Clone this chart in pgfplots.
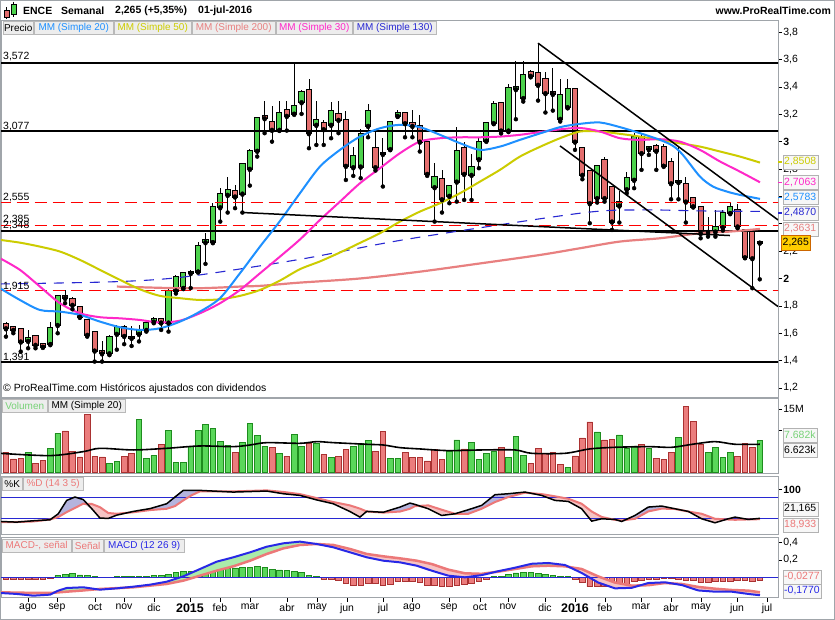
\documentclass[border=0pt]{standalone}
\usepackage{pgfplots}
\pgfplotsset{compat=1.18}
\usepackage{pgfplotstable}
\usepackage{fontspec}
\setmainfont{Liberation Sans}

\definecolor{ma20}{RGB}{30,144,255}
\definecolor{ma50}{RGB}{204,204,0}
\definecolor{ma200}{RGB}{232,128,128}
\definecolor{ma30}{RGB}{255,40,200}
\definecolor{ma130}{RGB}{40,40,210}
\definecolor{cgreen}{RGB}{76,210,76}
\definecolor{cred}{RGB}{228,110,110}
\definecolor{vgreen}{RGB}{90,215,90}
\definecolor{dgreen}{RGB}{30,140,30}
\definecolor{vred}{RGB}{235,125,125}
\definecolor{dred}{RGB}{170,50,50}
\definecolor{lav}{RGB}{180,180,222}
\definecolor{pinkf}{RGB}{246,196,196}
\definecolor{lgreen}{RGB}{170,235,170}
\definecolor{sig}{RGB}{236,120,120}
\definecolor{macdb}{RGB}{40,40,230}
\definecolor{gold}{RGB}{255,204,0}
\definecolor{frame}{RGB}{160,165,170}
\definecolor{volg}{RGB}{120,210,120}

\newcommand\tf{\fontsize{10.5}{12}\selectfont}
\newcommand\lf{\fontsize{10}{12}\selectfont}

% weekly candles: open high low close, up flag, volume (M), volume colour, MACD histogram
\pgfplotstableread{
w o h l c u vol vu mh
-25 1.668 1.685 1.575 1.636 0 4.76 0 -0.027
-24 1.644 1.650 1.600 1.624 0 3.17 0 -0.027
-23 1.629 1.630 1.466 1.539 0 3.33 0 -0.027
-22 1.544 1.620 1.490 1.563 1 4.76 1 -0.027
-21 1.580 1.580 1.490 1.515 0 2.14 0 -0.027
-20 1.520 1.530 1.500 1.500 0 2.86 0 -0.027
-19 1.520 1.685 1.520 1.636 1 5.71 1 -0.011
-18 1.660 1.875 1.600 1.873 1 9.29 1 0.019
-17 1.870 1.917 1.820 1.858 0 9.84 0 0.038
-16 1.848 1.868 1.775 1.807 0 4.92 0 0.046
-15 1.795 1.800 1.715 1.720 0 3.65 0 0.027
-14 1.697 1.700 1.575 1.588 0 13.8 0 0.019
-13 1.607 1.610 1.393 1.473 0 3.81 0 0.008
-12 1.473 1.540 1.393 1.453 0 3.65 0 0.003
-11 1.453 1.590 1.440 1.575 1 2.14 1 0.003
-10 1.595 1.660 1.480 1.644 1 2.62 1 0.008
-9 1.644 1.660 1.520 1.580 0 3.81 0 0.008
-8 1.570 1.653 1.507 1.566 0 4.52 0 0.008
-7 1.595 1.660 1.540 1.624 1 12.6 1 0.011
-6 1.624 1.685 1.612 1.678 1 3.33 1 0.015
-5 1.685 1.720 1.673 1.702 1 4.05 1 0.019
-4 1.702 1.705 1.624 1.678 0 6.67 0 0.019
-3 1.678 1.930 1.612 1.912 1 10.0 1 0.038
-2 1.912 2.026 1.890 2.009 1 2.38 1 0.057
-1 1.930 2.050 1.930 2.038 1 2.38 1 0.069
0 2.040 2.063 1.930 2.046 1 6.19 1 0.069
1 2.050 2.270 2.050 2.240 1 10.0 1 0.076
2 2.265 2.330 2.107 2.282 1 11.4 1 0.095
3 2.265 2.550 2.265 2.520 1 10.5 1 0.103
4 2.520 2.660 2.416 2.618 1 7.38 1 0.110
5 2.611 2.745 2.482 2.647 1 6.43 1 0.107
6 2.642 2.680 2.514 2.599 0 4.76 0 0.107
7 2.620 2.840 2.482 2.840 1 7.14 1 0.110
8 2.801 2.947 2.679 2.933 1 11.7 1 0.110
9 2.933 3.171 2.891 3.171 1 8.81 1 0.122
10 3.186 3.298 3.062 3.171 0 6.19 1 0.114
11 3.142 3.257 3.000 3.086 0 5.95 0 0.095
12 3.086 3.298 3.081 3.208 1 4.52 1 0.084
13 3.232 3.298 3.081 3.188 0 3.81 0 0.076
14 3.203 3.572 3.203 3.262 1 9.05 1 0.069
15 3.288 3.374 3.203 3.366 1 6.19 1 0.057
16 3.378 3.456 2.952 3.062 0 6.90 0 0.019
17 3.123 3.298 2.976 3.159 1 6.90 1 0.008
18 3.135 3.159 2.976 3.091 0 4.29 0 -0.019
19 3.123 3.293 3.025 3.225 1 3.57 1 -0.027
20 3.203 3.298 3.062 3.159 0 3.81 0 -0.038
21 3.159 3.227 2.720 2.823 0 5.48 0 -0.065
22 2.813 2.959 2.750 2.896 1 6.19 1 -0.088
23 2.818 3.091 2.733 3.054 1 6.90 1 -0.088
24 3.115 3.274 3.032 3.225 1 7.62 1 -0.069
25 2.952 3.086 2.789 2.813 0 5.00 0 -0.069
26 2.920 3.025 2.672 2.910 0 9.76 0 -0.088
27 2.945 3.147 2.940 3.140 1 3.33 1 -0.076
28 3.188 3.232 3.183 3.213 1 3.33 1 -0.050
29 3.208 3.208 3.032 3.135 0 4.76 0 -0.050
30 3.135 3.232 3.032 3.115 0 3.57 0 -0.050
31 3.115 3.196 2.928 3.000 0 3.57 0 -0.060
32 3.000 3.000 2.750 2.764 0 2.70 0 -0.088
33 2.667 2.847 2.416 2.745 1 5.50 0 -0.095
34 2.725 2.794 2.482 2.579 0 3.16 0 -0.107
35 2.604 2.677 2.550 2.677 1 4.92 1 -0.107
36 2.708 3.106 2.562 2.933 1 7.69 1 -0.088
37 2.952 3.000 2.574 2.764 0 5.55 0 -0.076
38 2.757 2.910 2.574 2.818 1 7.14 1 -0.069
39 2.872 3.037 2.806 3.000 1 3.16 1 -0.050
40 3.006 3.135 3.006 3.135 1 4.52 1 -0.019
41 3.135 3.300 3.130 3.276 1 4.92 1 0.011
42 3.281 3.281 3.060 3.081 0 5.95 0 0.011
43 3.081 3.420 3.070 3.391 1 3.57 1 0.038
44 3.384 3.586 3.164 3.403 1 8.57 1 0.050
45 3.318 3.586 3.293 3.488 1 4.05 1 0.057
46 3.512 3.520 3.470 3.481 0 2.14 0 0.057
47 3.500 3.720 3.300 3.415 0 5.71 0 0.046
48 3.456 3.512 3.213 3.354 0 4.52 0 0.030
49 3.366 3.537 3.227 3.349 0 4.67 0 0.019
50 3.166 3.456 3.147 3.342 1 1.90 0 0.011
51 3.252 3.456 3.244 3.383 1 1.20 1 0.011
52 3.383 3.383 2.940 3.000 0 3.90 0 -0.027
53 2.952 2.952 2.725 2.757 0 8.17 0 -0.057
54 2.786 2.786 2.404 2.550 0 11.98 0 -0.107
55 2.587 2.830 2.555 2.823 1 9.60 1 -0.107
56 2.867 2.891 2.562 2.587 0 7.70 0 -0.107
57 2.665 2.665 2.355 2.416 0 7.90 0 -0.107
58 2.533 2.640 2.409 2.557 1 8.90 1 -0.114
59 2.652 2.781 2.623 2.733 1 5.80 1 -0.076
60 2.721 3.062 2.660 3.037 1 6.30 1 -0.050
61 3.037 3.062 2.794 2.916 0 6.67 0 -0.038
62 2.945 2.964 2.903 2.964 1 5.71 1 -0.019
63 2.969 2.984 2.794 2.933 0 3.33 0 -0.019
64 2.960 2.984 2.823 2.823 0 3.10 0 -0.011
65 2.850 2.879 2.579 2.696 0 4.76 0 -0.011
66 2.705 2.969 2.579 2.710 1 8.33 1 -0.019
67 2.691 2.745 2.409 2.562 0 15.7 0 -0.038
68 2.587 2.587 2.526 2.526 0 12.1 0 -0.038
69 2.526 2.526 2.294 2.331 0 6.67 0 -0.057
70 2.340 2.452 2.306 2.346 1 4.76 1 -0.057
71 2.343 2.500 2.306 2.374 1 5.95 1 -0.050
72 2.374 2.500 2.350 2.482 1 3.57 1 -0.050
73 2.477 2.562 2.477 2.526 1 4.76 1 -0.050
74 2.497 2.546 2.367 2.380 0 3.81 0 -0.038
75 2.355 2.355 2.150 2.155 0 6.90 0 -0.038
76 2.343 2.343 1.929 2.148 0 5.95 0 -0.050
77 2.262 2.270 1.994 2.265 1 7.62 1 -0.038
}\data

\pgfplotstableread{
w k d
-25.81 12.6 10.8
-23.55 10.8 11.0
-21.30 14.5 12.6
-19.04 17.2 18.0
-17.92 33.8 25.0
-16.78 70.7 38.4
-15.66 80.0 50.0
-14.54 73.0 61.5
-13.40 48.0 61.0
-12.28 22.0 52.0
-11.16 21.0 36.0
-10.02 30.0 33.8
-7.77 40.3 38.0
-5.51 48.0 44.0
-3.25 61.5 47.6
-2.13 80.0 55.0
-1.01 98.3 70.7
0.13 98.3 85.0
1.25 98.3 95.6
5.76 93.7 95.6
10.28 96.5 98.3
12.53 89.1 94.0
14.79 84.5 88.0
17.05 72.0 77.1
19.29 61.5 66.1
21.55 40.0 56.9
22.90 24.6 48.0
23.81 40.3 40.3
26.06 38.0 37.0
28.32 52.3 40.0
29.67 63.3 47.6
30.35 59.6 55.0
32.15 47.6 56.9
33.96 29.2 45.0
35.76 33.8 33.8
37.56 44.9 33.8
39.37 56.9 47.6
41.17 86.4 66.1
42.97 89.1 80.0
45.23 93.7 92.0
47.49 84.5 88.0
49.29 70.7 82.0
51.09 67.9 75.3
52.90 47.6 61.5
54.26 13.5 40.0
55.61 20.0 25.0
57.41 18.2 17.0
58.32 12.6 15.4
60.12 29.2 20.0
61.92 52.3 40.3
63.73 55.1 48.0
65.53 47.6 47.0
67.33 40.3 40.0
69.14 20.0 33.8
70.94 9.0 20.0
72.74 20.0 18.0
73.65 24.6 17.2
75.45 18.2 18.2
77.03 21.2 18.9
}\stoch

\pgfplotstableread{
w m s
-25.81 -0.179 -0.171
-23.55 -0.190 -0.175
-21.30 -0.210 -0.178
-19.04 -0.198 -0.179
-17.92 -0.152 -0.172
-16.78 -0.122 -0.164
-14.54 -0.114 -0.150
-12.28 -0.141 -0.133
-10.02 -0.126 -0.124
-7.76 -0.107 -0.114
-5.51 -0.084 -0.095
-3.25 -0.050 -0.076
-1.00 0.011 -0.038
1.26 0.095 0.019
3.51 0.179 0.076
5.77 0.229 0.126
8.03 0.286 0.190
10.28 0.350 0.267
12.54 0.389 0.331
14.79 0.408 0.370
17.05 0.381 0.381
19.30 0.343 0.370
21.56 0.286 0.324
23.82 0.229 0.267
26.07 0.190 0.240
28.33 0.171 0.217
30.58 0.133 0.190
32.61 0.076 0.152
34.85 0.019 0.088
37.11 0.000 0.046
39.37 0.025 0.040
41.62 0.070 0.065
43.88 0.110 0.095
46.14 0.155 0.126
48.38 0.164 0.133
50.64 0.141 0.126
52.90 0.050 0.095
55.15 -0.060 0.010
57.41 -0.126 -0.060
59.67 -0.120 -0.095
61.92 -0.065 -0.090
64.18 -0.057 -0.065
66.44 -0.088 -0.076
68.68 -0.150 -0.110
70.94 -0.164 -0.130
73.20 -0.164 -0.145
75.45 -0.190 -0.152
77.03 -0.205 -0.171
}\macd

\pgfplotsset{
  panel/.style={
    scale only axis, width=777bp, anchor=north west,
    xmin=-25.67, xmax=79.47,
    axis line style={draw=frame, line width=0.8bp},
    xtick=\empty,
    ytick pos=right, yticklabel pos=right,
    tick align=outside, major tick length=4bp,
    tick style={black, line width=0.6bp},
    yticklabel style={font=\tf, inner sep=1.2bp},
    xticklabel style={font=\tf},
  },
}
\tikzset{
  vbox/.style={draw=gray!60, fill=gray!6, inner xsep=1.5bp, inner ysep=0.8bp,
    anchor=west, font=\tf, minimum height=14bp},
  lbox/.style={draw=gray!55, fill=gray!14, inner sep=0pt, anchor=north west,
    minimum height=13bp, font=\lf},
  lvl/.style={anchor=base west, font=\tf, inner sep=0pt},
}

\begin{document}
\begin{tikzpicture}
\useasboundingbox (0,0) rectangle (835bp,-620bp);
\fill[white] (0,0) rectangle (835bp,-620bp);

% ---------- price panel ----------
\begin{axis}[panel, at={(1bp,-20bp)}, height=377bp,
  ymin=1.134, ymax=3.889,
  ytick={1.2,1.4,1.6,1.8,2.0,2.2,2.4,2.6,2.8,3.0,3.2,3.4,3.6,3.8},
  yticklabels={{1,2},{1,4},{1,6},{1,8},\textbf{2},{2,2},{},{},{2,8},\textbf{3},{3,2},{3,4},{3,6},{3,8}}]
  % wicks
  \addplot[forget plot, only marks, mark=none,
    error bars/.cd, y dir=plus, y explicit, error mark=none,
    error bar style={draw=black, line width=0.9bp}]
    table[x=w, y=l, y error expr={\thisrow{h}-\thisrow{l}}] {\data};
  % body outlines
  \addplot[forget plot, only marks, mark=none,
    error bars/.cd, y dir=plus, y explicit, error mark=none,
    error bar style={draw=black, line width=6.2bp}]
    table[x=w, y expr={min(\thisrow{o},\thisrow{c})-0.0073},
      y error expr={abs(\thisrow{c}-\thisrow{o})+0.0146}] {\data};
  \addplot[forget plot, only marks, mark=none, restrict expr to domain={\thisrow{u}}{0.5:1.5},
    error bars/.cd, y dir=plus, y explicit, error mark=none,
    error bar style={draw=cgreen, line width=4.2bp}]
    table[x=w, y expr={min(\thisrow{o},\thisrow{c})},
      y error expr={abs(\thisrow{c}-\thisrow{o})}] {\data};
  \addplot[forget plot, only marks, mark=none, restrict expr to domain={\thisrow{u}}{-0.5:0.5},
    error bars/.cd, y dir=plus, y explicit, error mark=none,
    error bar style={draw=cred, line width=4.2bp}]
    table[x=w, y expr={min(\thisrow{o},\thisrow{c})},
      y error expr={abs(\thisrow{c}-\thisrow{o})}] {\data};

  % support / resistance levels
  \addplot[black, line width=2.2bp] coordinates {(-26,3.572) (80,3.572)};
  \addplot[black, line width=2.2bp] coordinates {(-26,3.077) (80,3.077)};
  \addplot[black, line width=2.2bp] coordinates {(-26,2.348) (80,2.348)};
  \addplot[black, line width=2.2bp] coordinates {(-26,1.391) (80,1.391)};
  \addplot[red, line width=1.1bp, dash pattern=on 12bp off 6bp] coordinates {(-26,2.555) (80,2.555)};
  \addplot[red, line width=1.1bp, dash pattern=on 12bp off 6bp] coordinates {(-26,2.385) (80,2.385)};
  \addplot[red, line width=1.1bp, dash pattern=on 12bp off 6bp] coordinates {(-26,1.915) (80,1.915)};

  % moving averages
  \addplot[ma200, line width=2.2bp, smooth] coordinates {
    (-9.98,1.941) (-6.87,1.936) (-4.16,1.932) (-1.45,1.929) (1.25,1.929) (3.96,1.934)
    (6.66,1.941) (9.37,1.946) (12.08,1.958) (14.78,1.970) (22.90,2.000) (31.02,2.050)
    (39.14,2.110) (47.26,2.172) (52.67,2.221) (58.09,2.270) (63.50,2.294) (68.91,2.331)
    (72.97,2.343) (77.03,2.362)};
  \addplot[ma130, line width=1.1bp, dash pattern=on 10bp off 8bp, smooth] coordinates {
    (-25.81,1.960) (-10.0,1.977) (-0.5,2.014) (14.78,2.140) (29.27,2.287) (52.67,2.477)
    (60.79,2.501) (68.91,2.494) (77.03,2.490)};
  \addplot[ma50, line width=2bp, smooth] coordinates {
    (-25.81,2.282) (-23.11,2.262) (-20.40,2.233) (-17.69,2.197) (-14.99,2.136) (-12.28,2.063)
    (-9.57,1.990) (-6.87,1.921) (-4.16,1.873) (-1.45,1.856) (1.25,1.843) (3.96,1.848)
    (6.66,1.873) (9.37,1.916) (12.08,1.985) (14.78,2.068) (17.49,2.125) (20.20,2.190)
    (22.90,2.260) (25.61,2.331) (28.32,2.416) (31.02,2.489) (33.73,2.550) (36.43,2.623)
    (39.14,2.708) (41.85,2.794) (44.55,2.891) (47.26,2.962) (49.97,3.025) (52.67,3.074)
    (55.38,3.074) (58.09,3.057) (60.79,3.037) (63.50,3.013) (66.20,2.988) (68.91,2.964)
    (71.62,2.928) (74.32,2.891) (77.03,2.847)};
  \addplot[ma30, line width=2bp, smooth] coordinates {
    (-25.81,2.148) (-23.11,2.063) (-20.40,1.941) (-17.69,1.819) (-14.99,1.746) (-12.28,1.717)
    (-9.57,1.709) (-6.87,1.697) (-4.16,1.678) (-1.45,1.692) (1.25,1.746) (3.96,1.819)
    (6.66,1.916) (9.37,2.038) (12.08,2.160) (14.78,2.285) (17.49,2.428) (20.20,2.562)
    (22.90,2.696) (25.61,2.806) (28.32,2.916) (31.02,3.001) (33.73,3.025) (36.43,3.032)
    (39.14,3.032) (41.85,3.037) (44.55,3.050) (47.26,3.070) (49.97,3.090) (52.67,3.100)
    (55.38,3.074) (58.09,3.025) (60.79,3.013) (63.50,3.018) (66.20,3.000) (68.91,2.940)
    (71.62,2.855) (74.32,2.781) (77.03,2.703)};
  \addplot[ma20, line width=2bp, smooth] coordinates {
    (-25.81,1.929) (-23.11,1.843) (-20.40,1.770) (-17.69,1.758) (-14.99,1.734) (-12.28,1.685)
    (-9.57,1.644) (-6.87,1.624) (-4.16,1.636) (-1.45,1.685) (1.25,1.758) (3.96,1.856)
    (6.66,2.038) (9.37,2.233) (12.08,2.420) (14.78,2.623) (17.49,2.818) (20.20,2.940)
    (22.90,3.037) (25.61,3.098) (28.32,3.123) (31.02,3.106) (33.73,3.050) (36.43,2.989)
    (39.14,2.940) (41.85,2.964) (44.55,3.013) (47.26,3.060) (49.97,3.106) (52.67,3.130)
    (55.38,3.140) (58.09,3.106) (60.79,3.062) (63.50,3.013) (65.26,2.969) (66.60,2.903)
    (68.91,2.745) (70.67,2.672) (72.57,2.635) (74.32,2.611) (77.03,2.582)};

  % trend lines
  \addplot[black, line width=1.5bp] coordinates {(7.07,2.482) (72.97,2.314)};
  \addplot[black, line width=1.5bp] coordinates {(46.99,3.720) (79.47,2.428)};
  \addplot[black, line width=1.5bp] coordinates {(49.97,2.969) (79.47,1.795)};
\end{axis}

% ---------- volume panel ----------
\begin{axis}[panel, at={(1bp,-398bp)}, height=75bp,
  ymin=-0.17, ymax=17.69, ytick={10,15}, yticklabels={{},15M}]
  \addplot[ybar, bar width=5.6bp, bar shift=0pt, fill=vgreen, draw=dgreen, line width=0.6bp,
    restrict expr to domain={\thisrow{vu}}{0.5:1.5}] table[x=w, y=vol] {\data};
  \addplot[ybar, bar width=5.6bp, bar shift=0pt, fill=vred, draw=dred, line width=0.6bp,
    restrict expr to domain={\thisrow{vu}}{-0.5:0.5}] table[x=w, y=vol] {\data};
  \addplot[black, line width=1.6bp, smooth] coordinates {
    (-25.81,4.52) (-19.04,3.97) (-14.54,4.92) (-12.28,5.71) (-7.77,5.32) (-3.25,5.71)
    (1.25,6.27) (5.76,6.11) (8.02,6.50) (10.28,7.06) (14.79,6.90) (17.05,7.30) (19.29,7.06)
    (23.81,6.67) (26.06,6.50) (28.32,5.87) (31.02,5.56) (34.85,5.16) (39.37,5.32)
    (43.88,5.32) (46.14,4.52) (50.64,4.52) (53.99,5.56) (57.41,5.95) (61.92,6.11)
    (65.08,5.95) (67.87,6.67) (70.94,7.30) (73.65,6.67) (77.03,6.67)};
\end{axis}

% ---------- stochastic panel ----------
\begin{axis}[panel, at={(1bp,-476bp)}, height=58bp,
  ymin=-22, ymax=138, ytick={100}, yticklabels={\textbf{100}}]
  % shaded gap between %K and %D (stacked from the lower of the two)
  \addplot[draw=none, forget plot, stack plots=y]
    table[x=w, y expr={min(\thisrow{k},\thisrow{d})}] {\stoch};
  \addplot[fill=lav, draw=none, forget plot, stack plots=y]
    table[x=w, y expr={\thisrow{k}-min(\thisrow{k},\thisrow{d})}] {\stoch} \closedcycle;
  \addplot[draw=none, forget plot, stack plots=y]
    table[x=w, y expr={min(\thisrow{k},\thisrow{d})-\thisrow{k}}] {\stoch};
  \addplot[fill=pinkf, draw=none, forget plot, stack plots=y]
    table[x=w, y expr={\thisrow{d}-min(\thisrow{k},\thisrow{d})}] {\stoch} \closedcycle;
  \addplot[ma130, line width=0.8bp] coordinates {(-26,80) (80,80)};
  \addplot[ma130, line width=0.8bp] coordinates {(-26,20) (80,20)};
  \addplot[sig, line width=2bp] table[x=w, y=d] {\stoch};
  \addplot[black, line width=1.5bp] table[x=w, y=k] {\stoch};
\end{axis}

% ---------- MACD panel ----------
\begin{axis}[panel, at={(1bp,-537.7bp)}, height=60bp,
  ymin=-0.233, ymax=0.453, ytick={0.2,0.4}, yticklabels={{0,2},{0,4}},
  xtick={-22.02,-18.1,-12.95,-9.03,-4.97,-0.1,3.96,8.02,13.03,17.09,21.15,26.02,29.94,34.95,39.14,42.93,47.94,52.0,56.06,60.93,64.99,69.05,73.92,77.98},
  xticklabels={ago,sep,oct,nov,dic,{\bfseries\fontsize{12.5}{14}\selectfont 2015},feb,mar,abr,may,jun,jul,ago,sep,oct,nov,dic,{\bfseries\fontsize{12.5}{14}\selectfont 2016},feb,mar,abr,may,jun,jul},
  xtick pos=bottom, xticklabel style={font=\tf, inner sep=2bp}]
  \addplot[ybar, bar width=5.6bp, bar shift=0pt, fill=vgreen, draw=dgreen, line width=0.6bp,
    restrict expr to domain={\thisrow{mh}}{0:1}] table[x=w, y=mh] {\data};
  \addplot[ybar, bar width=5.6bp, bar shift=0pt, fill=vred, draw=dred, line width=0.6bp,
    restrict expr to domain={\thisrow{mh}}{-1:0}] table[x=w, y=mh] {\data};
  \addplot[draw=none, forget plot, stack plots=y]
    table[x=w, y expr={min(\thisrow{m},\thisrow{s})}] {\macd};
  \addplot[fill=lgreen, draw=none, forget plot, stack plots=y]
    table[x=w, y expr={\thisrow{m}-min(\thisrow{m},\thisrow{s})}] {\macd} \closedcycle;
  \addplot[draw=none, forget plot, stack plots=y]
    table[x=w, y expr={min(\thisrow{m},\thisrow{s})-\thisrow{m}}] {\macd};
  \addplot[fill=pinkf, draw=none, forget plot, stack plots=y]
    table[x=w, y expr={\thisrow{s}-min(\thisrow{m},\thisrow{s})}] {\macd} \closedcycle;
  \addplot[ma130, line width=0.8bp] coordinates {(-26,0) (80,0)};
  \addplot[sig, line width=2.5bp] table[x=w, y=s] {\macd};
  \addplot[macdb, line width=2bp] table[x=w, y=m] {\macd};
\end{axis}

% ---------- title bar ----------
\draw[black, line width=0.6bp] (6.5bp,-7bp) -- (6.5bp,-19bp);
\filldraw[fill=cred, draw=black, line width=0.5bp] (4bp,-10bp) rectangle (9bp,-17bp);
\draw[black, line width=0.6bp] (13.5bp,-1.5bp) -- (13.5bp,-17bp);
\filldraw[fill=cgreen, draw=black, line width=0.5bp] (11bp,-4bp) rectangle (16bp,-14bp);
\node[anchor=west, font=\tf\bfseries, inner sep=0pt] at (23bp,-10.5bp) {ENCE};
\node[anchor=west, font=\tf\bfseries, inner sep=0pt] at (61bp,-10.5bp) {Semanal};
\node[anchor=west, font=\tf\bfseries, inner sep=0pt] at (115bp,-10.5bp) {2,265 (+5,35\%)};
\node[anchor=west, font=\tf\bfseries, inner sep=0pt] at (198bp,-10.5bp) {01-jul-2016};
\node[anchor=east, font=\tf\bfseries, inner sep=0pt] at (831bp,-10.5bp) {www.ProRealTime.com};

% ---------- legends ----------
\node[lbox, minimum width=30bp] at (3bp,-21bp) {Precio};
\node[lbox, minimum width=79bp, text=ma20] at (34bp,-21bp) {MM (Simple 20)};
\node[lbox, minimum width=77bp, text=ma50] at (114bp,-21bp) {MM (Simple 50)};
\node[lbox, minimum width=83bp, text=ma200] at (192bp,-21bp) {MM (Simple 200)};
\node[lbox, minimum width=76bp, text=ma30] at (276bp,-21bp) {MM (Simple 30)};
\node[lbox, minimum width=83bp, text=ma130] at (353bp,-21bp) {MM (Simple 130)};

\node[lbox, minimum width=45bp, text=volg] at (2bp,-399bp) {Volumen};
\node[lbox, minimum width=77bp] at (48bp,-399bp) {MM (Simple 20)};

\node[lbox, minimum width=20bp] at (2bp,-477bp) {\%K};
\node[lbox, minimum width=60bp, text=sig] at (23bp,-477bp) {\%D (14 3 5)};

\node[lbox, minimum width=69bp, text=sig] at (2bp,-539bp) {MACD-, señal};
\node[lbox, minimum width=31bp, text=sig] at (72bp,-539bp) {Señal};
\node[lbox, minimum width=80bp, text=macdb] at (104bp,-539bp) {MACD (12 26 9)};

% ---------- level labels ----------
\node[lvl] at (3bp,-59bp) {3,572};
\node[lvl] at (3bp,-129bp) {3,077};
\node[lvl] at (3bp,-200bp) {2,555};
\node[lvl] at (3bp,-222bp) {2,385};
\node[lvl] at (3bp,-228bp) {2,348};
\node[lvl] at (3bp,-289bp) {1,915};
\node[lvl] at (3bp,-360bp) {1,391};
\node[anchor=west, font=\tf, inner sep=0pt] at (3bp,-389bp) {© ProRealTime.com Históricos ajustados con dividendos};

% ---------- value boxes ----------
\draw[ma50, line width=1.2bp] (778bp,-162bp) -- (782bp,-162bp);
\draw[ma30, line width=1.2bp] (778bp,-182.5bp) -- (782bp,-182.5bp);
\draw[ma20, line width=1.2bp] (778bp,-197.5bp) -- (782bp,-197.5bp);
\draw[ma130, line width=1.2bp] (778bp,-213bp) -- (782bp,-213bp);
\node[vbox, text=ma50] at (782.5bp,-162bp) {2,8508};
\node[vbox, text=ma30] at (782.5bp,-182.5bp) {2,7063};
\node[vbox, text=ma20] at (782.5bp,-197.5bp) {2,5783};
\node[vbox, text=ma130] at (782.5bp,-213bp) {2,4870};
\node[vbox, text=ma200] at (782.5bp,-229bp) {2,3631};
\node[vbox, fill=gold, draw=orange!80!black, minimum height=15bp] at (781bp,-242.5bp) {2,265};

\node[vbox, text=volg] at (782.5bp,-435bp) {7.682k};
\node[vbox] at (782.5bp,-450bp) {6.623k};

\node[vbox] at (782.5bp,-509bp) {21,165};
\node[vbox, text=sig] at (782.5bp,-525bp) {18,933};

\node[vbox, text=sig] at (782.5bp,-577bp) {-0,0277};
\node[vbox, text=macdb] at (782.5bp,-591bp) {-0,1770};

\draw[frame, line width=0.8bp] (0.4bp,-0.4bp) rectangle (834.6bp,-619.6bp);
\end{tikzpicture}
\end{document}
